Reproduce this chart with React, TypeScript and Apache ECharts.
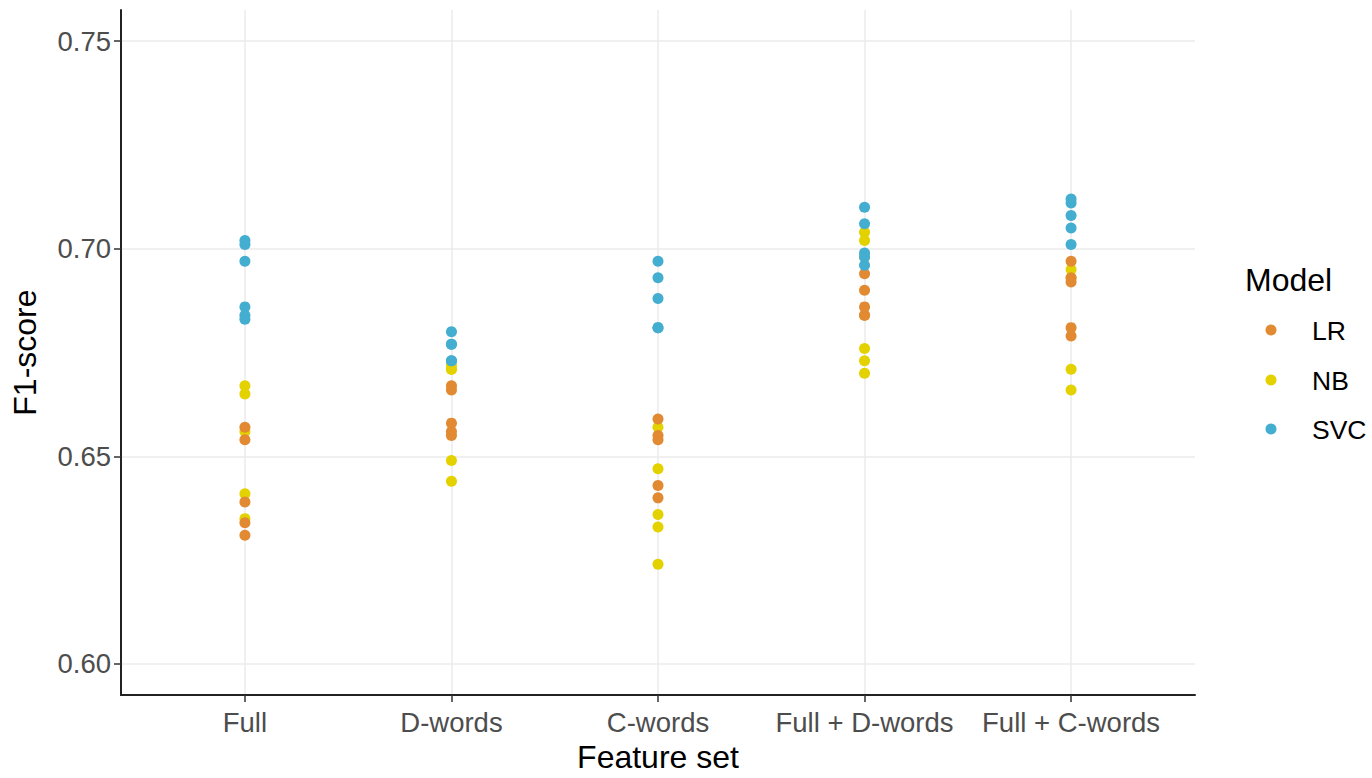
import React, { useEffect, useRef } from "react";
import * as echarts from "echarts";

const categories = ["Full", "D-words", "C-words", "Full + D-words", "Full + C-words"];
const models = ["LR", "NB", "SVC"];
const yTicks = [0.6, 0.65, 0.7, 0.75];

const lrValues: number[][] = [
  [0.657, 0.654, 0.639, 0.634, 0.631],
  [0.667, 0.666, 0.658, 0.656, 0.655],
  [0.659, 0.655, 0.654, 0.643, 0.64],
  [0.694, 0.69, 0.686, 0.684, 0.684],
  [0.697, 0.693, 0.692, 0.681, 0.679],
];
const nbValues: number[][] = [
  [0.667, 0.665, 0.656, 0.641, 0.635],
  [0.672, 0.671, 0.649, 0.644, 0.671],
  [0.657, 0.647, 0.636, 0.633, 0.624],
  [0.704, 0.702, 0.698, 0.676, 0.673, 0.67],
  [0.695, 0.693, 0.671, 0.666],
];
const svcValues: number[][] = [
  [0.702, 0.701, 0.697, 0.686, 0.684, 0.683],
  [0.68, 0.677, 0.677, 0.673, 0.673],
  [0.697, 0.693, 0.688, 0.681, 0.681],
  [0.71, 0.706, 0.699, 0.698, 0.696],
  [0.712, 0.711, 0.708, 0.705, 0.701],
];

const colors: Record<string, string> = { LR: "#E28A32", NB: "#E4D200", SVC: "#44AED0" };

function toPoints(values: number[][]) {
  const pts: number[][] = [];
  values.forEach((arr, i) => arr.forEach((v) => pts.push([i, v])));
  return pts;
}

const FONT = "'Liberation Sans', Arial, sans-serif";

export default function App() {
  const ref = useRef<HTMLDivElement>(null);
  useEffect(() => {
    if (!ref.current) return;
    const chart = echarts.init(ref.current, undefined, { renderer: "svg" });
    const seriesData: Record<string, number[][]> = {
      LR: toPoints(lrValues),
      NB: toPoints(nbValues),
      SVC: toPoints(svcValues),
    };
    const drawOrder = ["NB", "LR", "SVC"];
    const legendY = [330, 380, 429];
    const legendGraphics: any[] = [];
    models.forEach((m, i) => {
      legendGraphics.push({
        type: "circle",
        shape: { cx: 1271, cy: legendY[i], r: 5.5 },
        style: { fill: colors[m] },
      });
      legendGraphics.push({
        type: "text",
        x: 1312,
        y: legendY[i] + 1,
        style: {
          text: m,
          fontSize: 26.5,
          fill: "#000",
          fontFamily: FONT,
          verticalAlign: "middle",
          align: "left",
        },
      });
    });
    chart.setOption({
      animation: false,
      textStyle: { fontFamily: FONT },
      grid: { left: 121, right: 177, top: 10, bottom: 76, containLabel: false },
      xAxis: {
        type: "value",
        min: -0.6,
        max: 4.6,
        name: "Feature set",
        nameLocation: "middle",
        nameGap: 43,
        nameTextStyle: { fontSize: 32, color: "#000", fontFamily: FONT },
        axisLine: { show: true, onZero: false, lineStyle: { color: "#222", width: 2 } },
        axisTick: {
          show: true,
          length: 7,
          customValues: [0, 1, 2, 3, 4],
          lineStyle: { color: "#333", width: 1.5 },
        },
        axisLabel: {
          customValues: [0, 1, 2, 3, 4],
          formatter: (v: number) => categories[Math.round(v)] ?? "",
          fontSize: 27.5,
          color: "#4D4D4D",
          margin: 13,
          fontFamily: FONT,
        },
        splitLine: { show: true, lineStyle: { color: "#EBEBEB", width: 1.5 } },
      },
      yAxis: {
        type: "value",
        min: 0.5925,
        max: 0.7575,
        name: "F1-score",
        nameLocation: "middle",
        nameGap: 80,
        nameRotate: 90,
        nameTextStyle: { fontSize: 32, color: "#000", fontFamily: FONT },
        axisLine: { show: true, onZero: false, lineStyle: { color: "#222", width: 2 } },
        axisTick: {
          show: true,
          length: 7,
          customValues: yTicks,
          lineStyle: { color: "#333", width: 1.5 },
        },
        axisLabel: {
          customValues: yTicks,
          formatter: (v: number) => v.toFixed(2),
          fontSize: 27.5,
          color: "#4D4D4D",
          margin: 10,
          fontFamily: FONT,
        },
        splitLine: { show: true, lineStyle: { color: "#EBEBEB", width: 1.5 } },
      },
      graphic: [
        {
          type: "text",
          left: 1245,
          top: 264,
          style: { text: "Model", fontSize: 32, fill: "#000", fontFamily: FONT },
        },
        ...legendGraphics,
      ],
      series: drawOrder.map((m) => ({
        name: m,
        type: "scatter",
        symbol: "circle",
        symbolSize: 11,
        itemStyle: { color: colors[m], opacity: 1 },
        data: seriesData[m],
      })),
    });
    return () => chart.dispose();
  }, []);
  return (
    <div
      ref={ref}
      style={{ position: "absolute", left: 0, top: 0, width: 1372, height: 778, background: "#fff" }}
    />
  );
}
